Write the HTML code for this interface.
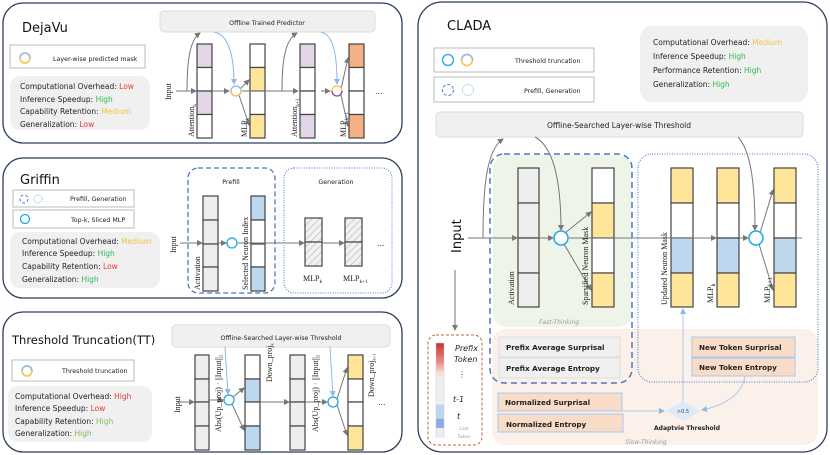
<!DOCTYPE html>
<html><head><meta charset="utf-8"><style>
body{margin:0;background:#fff}
svg{display:block}
text{font-family:"DejaVu Sans","Liberation Sans",sans-serif}
.s{font-size:7.5px;fill:#222}
.l{font-size:6.3px;fill:#222}
.sr{font-family:"Liberation Serif",serif;font-size:8px;fill:#222}
.t{font-size:13px;fill:#111}
.c{stroke:#444;stroke-width:1.2}
</style></head><body>
<svg width="830" height="455" viewBox="0 0 830 455" xmlns="http://www.w3.org/2000/svg">
<defs>
<marker id="a" markerWidth="6" markerHeight="6" refX="5" refY="3" orient="auto"><path d="M0,0L6,3L0,6z" fill="#777"/></marker>
<marker id="b" markerWidth="6" markerHeight="6" refX="5" refY="3" orient="auto"><path d="M0,0L6,3L0,6z" fill="#8fb8e6"/></marker>
<pattern id="h" width="5" height="5" patternUnits="userSpaceOnUse" patternTransform="rotate(45)"><rect width="5" height="5" fill="#f2f2f2"/><line x1="0" y1="0" x2="0" y2="5" stroke="#ccc" stroke-width="2"/></pattern>
<linearGradient id="g" x1="0" y1="0" x2="0" y2="1"><stop offset="0" stop-color="#c9302c"/><stop offset="0.2" stop-color="#e88a85"/><stop offset="0.32" stop-color="#f9e0dc"/><stop offset="0.4" stop-color="#eee"/><stop offset="0.65" stop-color="#eee"/><stop offset="0.66" stop-color="#bcd6ee"/><stop offset="0.8" stop-color="#bcd6ee"/><stop offset="0.81" stop-color="#8eaadf"/><stop offset="0.9" stop-color="#8eaadf"/><stop offset="0.91" stop-color="#eee"/><stop offset="1" stop-color="#eee"/></linearGradient>
</defs>

<!-- DejaVu -->
<rect x="3" y="3" width="399" height="140" rx="20" fill="#fff" stroke="#2c3e5c" stroke-width="1.3"/>
<text x="22" y="32" class="t">DejaVu</text>
<rect x="10" y="45" width="135" height="23" fill="#fff" stroke="#bbb"/>
<circle cx="25" cy="58" r="5" fill="none" stroke="#f5c242" stroke-width="1.5"/>
<path d="M20,58 A5,5 0 0 1 30,58" fill="none" stroke="#8fb8e6" stroke-width="1.5"/>
<text x="53" y="61" class="l">Layer-wise predicted mask</text>
<rect x="10" y="76" width="140" height="54" rx="10" fill="#f0f0f0"/>
<text x="20" y="89" class="s">Computational Overhead: <tspan fill="#e53935">Low</tspan></text>
<text x="20" y="102" class="s">Inference Speedup: <tspan fill="#2eb85c">High</tspan></text>
<text x="20" y="114" class="s">Capability Retention: <tspan fill="#f5c242">Medium</tspan></text>
<text x="20" y="127" class="s">Generalization: <tspan fill="#e53935">Low</tspan></text>
<rect x="160" y="11" width="215" height="21" rx="4" fill="#f0f0f0" stroke="#ddd"/>
<text x="267" y="25" class="l" text-anchor="middle">Offline Trained Predictor</text>
<g class="c">
<rect x="197" y="44" width="15" height="23.5" fill="#e1d5e7"/><rect x="197" y="67.5" width="15" height="23.5" fill="#fff"/><rect x="197" y="91" width="15" height="23.5" fill="#e1d5e7"/><rect x="197" y="114.5" width="15" height="23.5" fill="#fff"/>
<rect x="250" y="44" width="15" height="23.5" fill="#fff"/><rect x="250" y="67.5" width="15" height="23.5" fill="#fee599"/><rect x="250" y="91" width="15" height="23.5" fill="#fff"/><rect x="250" y="114.5" width="15" height="23.5" fill="#fee599"/>
<rect x="300" y="44" width="15" height="23.5" fill="#e1d5e7"/><rect x="300" y="67.5" width="15" height="23.5" fill="#fff"/><rect x="300" y="91" width="15" height="23.5" fill="#fff"/><rect x="300" y="114.5" width="15" height="23.5" fill="#e1d5e7"/>
<rect x="349" y="44" width="15" height="23.5" fill="#f4b183"/><rect x="349" y="67.5" width="15" height="23.5" fill="#fff"/><rect x="349" y="91" width="15" height="23.5" fill="#fff"/><rect x="349" y="114.5" width="15" height="23.5" fill="#f4b183"/>
</g>
<g stroke="#777" fill="none" stroke-width="1">
<line x1="176" y1="91" x2="196" y2="91" marker-end="url(#a)"/>
<line x1="212" y1="91" x2="229" y2="91" marker-end="url(#a)"/>
<line x1="242" y1="91" x2="298" y2="91" marker-end="url(#a)"/>
<line x1="321" y1="91" x2="330" y2="91" marker-end="url(#a)"/>
<path d="M187,91 C187,60 190,40 200,33" marker-end="url(#a)"/>
<path d="M282,91 C282,60 285,40 297,33" marker-end="url(#a)"/>
<line x1="240" y1="89" x2="249" y2="80" marker-end="url(#a)"/><line x1="239" y1="95" x2="249" y2="125" marker-end="url(#a)"/>
<line x1="341" y1="89" x2="348" y2="58" marker-end="url(#a)"/><line x1="341" y1="95" x2="348" y2="126" marker-end="url(#a)"/>
</g>
<g stroke="#8fb8e6" fill="none"><path d="M214,32 C230,35 234,60 234,84" marker-end="url(#b)"/><path d="M321,32 C335,35 337,60 337,84" marker-end="url(#b)"/></g>
<circle cx="236" cy="91" r="5" fill="#fff" stroke="#8fb8e6" stroke-width="1.3"/><path d="M231,91 A5,5 0 0 0 241,91" fill="none" stroke="#f5c242" stroke-width="1.3"/>
<circle cx="337" cy="91" r="5" fill="#fff" stroke="#f5c242" stroke-width="1.3"/><path d="M332,91 A5,5 0 0 0 342,91" fill="none" stroke="#8e44ad" stroke-width="1.3"/>
<text x="375" y="94" class="s">…</text>
<text transform="translate(171,100) rotate(-90)" class="sr">Input</text>
<text transform="translate(194,137) rotate(-90)" class="sr">Attention<tspan font-size="5.5" dy="2">k</tspan></text>
<text transform="translate(247,137) rotate(-90)" class="sr">MLP<tspan font-size="5.5" dy="2">k</tspan></text>
<text transform="translate(297,137) rotate(-90)" class="sr">Attention<tspan font-size="5.5" dy="2">k+1</tspan></text>
<text transform="translate(346,137) rotate(-90)" class="sr">MLP<tspan font-size="5.5" dy="2">k+1</tspan></text>

<!-- Griffin -->
<rect x="3" y="158" width="399" height="140" rx="20" fill="#fff" stroke="#2c3e5c" stroke-width="1.3"/>
<text x="20" y="184" class="t">Griffin</text>
<rect x="13" y="190" width="121" height="17" fill="#fff" stroke="#bbb"/>
<circle cx="24" cy="199" r="4" fill="none" stroke="#4a78c8" stroke-dasharray="3,2"/><circle cx="38" cy="199" r="4" fill="none" stroke="#8fb8e6" stroke-dasharray="1,1"/>
<text x="70" y="201" class="l">Prefill, Generation</text>
<rect x="13" y="210" width="121" height="18" fill="#fff" stroke="#bbb"/>
<circle cx="25" cy="219" r="4.5" fill="none" stroke="#1ea7e8" stroke-width="1.3"/>
<text x="71" y="222" class="l">Top-k, Sliced MLP</text>
<rect x="10" y="232" width="150" height="56" rx="10" fill="#f0f0f0"/>
<text x="22" y="244" class="s">Computational Overhead: <tspan fill="#f5c242">Medium</tspan></text>
<text x="22" y="256" class="s">Inference Speedup: <tspan fill="#2eb85c">High</tspan></text>
<text x="22" y="269" class="s">Capability Retention: <tspan fill="#e53935">Low</tspan></text>
<text x="22" y="282" class="s">Generalization: <tspan fill="#2eb85c">High</tspan></text>
<rect x="188" y="168" width="87" height="125" rx="10" fill="none" stroke="#4a78c8" stroke-width="1.3" stroke-dasharray="5,3"/>
<text x="231" y="184" class="l" text-anchor="middle">Prefill</text>
<rect x="284" y="168" width="108" height="125" rx="10" fill="none" stroke="#4a78c8" stroke-width="1" stroke-dasharray="1,1.5"/>
<text x="336" y="184" class="l" text-anchor="middle">Generation</text>
<g class="c">
<rect x="203" y="196" width="15" height="24" fill="#eee"/><rect x="203" y="220" width="15" height="24" fill="#eee"/><rect x="203" y="244" width="15" height="23" fill="#eee"/><rect x="203" y="267" width="15" height="24" fill="#eee"/>
<rect x="251" y="196" width="14" height="24" fill="#bdd7ee"/><rect x="251" y="220" width="14" height="24" fill="#fff"/><rect x="251" y="244" width="14" height="23" fill="#fff"/><rect x="251" y="267" width="14" height="24" fill="#bdd7ee"/>
<rect x="305" y="218" width="17" height="24" fill="url(#h)"/><rect x="305" y="242" width="17" height="24" fill="url(#h)"/>
<rect x="345" y="218" width="17" height="24" fill="url(#h)"/><rect x="345" y="242" width="17" height="24" fill="url(#h)"/>
</g>
<g stroke="#777" stroke-width="1"><line x1="180" y1="243" x2="202" y2="243" marker-end="url(#a)"/><line x1="218" y1="243" x2="226" y2="243" marker-end="url(#a)"/><line x1="238" y1="243" x2="304" y2="243" marker-end="url(#a)"/><line x1="322" y1="243" x2="344" y2="243" marker-end="url(#a)"/></g>
<circle cx="232" cy="243" r="5" fill="#fff" stroke="#1ea7e8" stroke-width="1.3"/>
<text x="377" y="246" class="s">…</text>
<text transform="translate(176,253) rotate(-90)" class="sr">Input</text>
<text transform="translate(200,290) rotate(-90)" class="sr">Activation</text>
<text transform="translate(248,290) rotate(-90)" class="sr" font-size="7">Selected Neuron Index</text>
<text x="303" y="281" class="sr">MLP<tspan font-size="5.5" dy="2">k</tspan></text>
<text x="343" y="281" class="sr">MLP<tspan font-size="5.5" dy="2">k+1</tspan></text>

<!-- TT -->
<rect x="3" y="312" width="399" height="140" rx="20" fill="#fff" stroke="#2c3e5c" stroke-width="1.3"/>
<text x="12" y="344" class="t" style="font-size:11.5px">Threshold Truncation(TT)</text>
<rect x="12" y="360" width="122" height="21" fill="#fff" stroke="#bbb"/>
<circle cx="27" cy="371" r="5" fill="none" stroke="#f5c242" stroke-width="1.5"/><path d="M22,371 A5,5 0 0 1 32,371" fill="none" stroke="#8fb8e6" stroke-width="1.5"/>
<text x="62" y="373" class="l">Threshold truncation</text>
<rect x="8" y="386" width="144" height="56" rx="10" fill="#f0f0f0"/>
<text x="15" y="399" class="s">Computational Overhead: <tspan fill="#e53935">High</tspan></text>
<text x="15" y="411" class="s">Inference Speedup: <tspan fill="#e53935">Low</tspan></text>
<text x="15" y="424" class="s">Capability Retention: <tspan fill="#7cbf5c">High</tspan></text>
<text x="15" y="436" class="s">Generalization: <tspan fill="#7cbf5c">High</tspan></text>
<rect x="172" y="325" width="218" height="22" rx="4" fill="#f0f0f0" stroke="#ddd"/>
<text x="281" y="340" class="l" text-anchor="middle">Offline-Searched Layer-wise Threshold</text>
<g class="c">
<rect x="195" y="355" width="14" height="24" fill="#eee"/><rect x="195" y="379" width="14" height="23" fill="#eee"/><rect x="195" y="402" width="14" height="24" fill="#eee"/><rect x="195" y="426" width="14" height="24" fill="#eee"/>
<rect x="245" y="355" width="15" height="24" fill="#fff"/><rect x="245" y="379" width="15" height="23" fill="#bdd7ee"/><rect x="245" y="402" width="15" height="24" fill="#fff"/><rect x="245" y="426" width="15" height="24" fill="#bdd7ee"/>
<rect x="290" y="355" width="15" height="24" fill="#eee"/><rect x="290" y="379" width="15" height="23" fill="#eee"/><rect x="290" y="402" width="15" height="24" fill="#eee"/><rect x="290" y="426" width="15" height="24" fill="#eee"/>
<rect x="348" y="355" width="15" height="24" fill="#fee599"/><rect x="348" y="379" width="15" height="23" fill="#fff"/><rect x="348" y="402" width="15" height="24" fill="#fff"/><rect x="348" y="426" width="15" height="24" fill="#fee599"/>
</g>
<g stroke="#777" stroke-width="1" fill="none"><line x1="178" y1="402" x2="194" y2="402" marker-end="url(#a)"/><line x1="209" y1="400" x2="223" y2="400" marker-end="url(#a)"/><line x1="260" y1="402" x2="289" y2="402" marker-end="url(#a)"/><line x1="305" y1="402" x2="327" y2="402" marker-end="url(#a)"/>
<line x1="233" y1="397" x2="244" y2="388" marker-end="url(#a)"/><line x1="232" y1="404" x2="244" y2="430" marker-end="url(#a)"/>
<line x1="337" y1="399" x2="347" y2="368" marker-end="url(#a)"/><line x1="337" y1="405" x2="347" y2="435" marker-end="url(#a)"/></g>
<g stroke="#8fb8e6" fill="none"><path d="M225,347 L228,394" marker-end="url(#b)"/><path d="M330,347 L333,396" marker-end="url(#b)"/></g>
<circle cx="229" cy="400" r="5" fill="#fff" stroke="#1ea7e8" stroke-width="1.3"/>
<circle cx="333" cy="402" r="5" fill="#fff" stroke="#1ea7e8" stroke-width="1.3"/>
<text x="378" y="405" class="s">…</text>
<text transform="translate(180,413) rotate(-90)" class="sr" font-size="9">Input</text>
<text transform="translate(221,432) rotate(-90)" class="sr" font-size="6.5">Abs(Up_proj) · ||Input||<tspan font-size="4.5" dy="1.5">2</tspan></text>
<text transform="translate(272,382) rotate(-90)" class="sr" font-size="6.5">Down_proj<tspan font-size="4.5" dy="1.5">k</tspan></text>
<text transform="translate(318,432) rotate(-90)" class="sr" font-size="6.5">Abs(Up_proj) · ||Input||<tspan font-size="4.5" dy="1.5">2</tspan></text>
<text transform="translate(374,397) rotate(-90)" class="sr" font-size="6.5">Down_proj<tspan font-size="4.5" dy="1.5">k+1</tspan></text>

<!-- CLADA -->
<rect x="418" y="2" width="409" height="450" rx="24" fill="#fff" stroke="#2c3e5c" stroke-width="1.3"/>
<text x="447" y="30" class="t">CLADA</text>
<rect x="434" y="48" width="160" height="24" fill="#fff" stroke="#bbb"/>
<circle cx="448" cy="60" r="5.5" fill="none" stroke="#1ea7e8" stroke-width="1.3"/><circle cx="467" cy="60" r="5.5" fill="none" stroke="#f5c242" stroke-width="1.5"/><path d="M461.5,60 A5.5,5.5 0 0 1 472.5,60" fill="none" stroke="#8fb8e6" stroke-width="1.5"/>
<text x="515" y="63" class="l">Threshold truncation</text>
<rect x="434" y="77" width="160" height="25" fill="#fff" stroke="#bbb"/>
<circle cx="448" cy="90" r="5.5" fill="none" stroke="#4a78c8" stroke-dasharray="3,2"/><circle cx="468" cy="90" r="5.5" fill="none" stroke="#8fb8e6" stroke-dasharray="1,1"/>
<text x="524" y="93" class="l">Prefill, Generation</text>
<rect x="640" y="26" width="168" height="76" rx="12" fill="#f0f0f0"/>
<text x="653" y="45" class="s">Computational Overhead: <tspan fill="#f5c242">Medium</tspan></text>
<text x="653" y="59" class="s">Inference Speedup: <tspan fill="#2eb85c">High</tspan></text>
<text x="653" y="73" class="s">Performance Retention: <tspan fill="#2eb85c">High</tspan></text>
<text x="653" y="87" class="s">Generalization: <tspan fill="#2eb85c">High</tspan></text>
<rect x="436" y="112" width="367" height="25" rx="4" fill="#f0f0f0" stroke="#ddd"/>
<text x="619" y="128" class="s" text-anchor="middle">Offline-Searched Layer-wise Threshold</text>
<rect x="492" y="329" width="326" height="116" rx="14" fill="#fcf1ea"/>
<rect x="493" y="155" width="139" height="172" rx="14" fill="#eef5e8"/>
<rect x="490" y="154" width="142" height="229" rx="14" fill="none" stroke="#4a78c8" stroke-width="1.5" stroke-dasharray="6,4"/>
<rect x="638" y="154" width="180" height="228" rx="14" fill="none" stroke="#4a78c8" stroke-width="1.1" stroke-dasharray="1,1.5"/>
<text x="559" y="324" font-size="6" font-style="italic" fill="#999" text-anchor="middle">Fast-Thinking</text>
<text x="646" y="444" font-size="6" font-style="italic" fill="#999" text-anchor="middle">Slow-Thinking</text>
<g class="c">
<rect x="518" y="168" width="21" height="35" fill="#eee"/><rect x="518" y="203" width="21" height="35" fill="#eee"/><rect x="518" y="238" width="21" height="35" fill="#eee"/><rect x="518" y="273" width="21" height="34" fill="#eee"/>
<rect x="592" y="168" width="22" height="35" fill="#fff"/><rect x="592" y="203" width="22" height="35" fill="#fee599"/><rect x="592" y="238" width="22" height="35" fill="#fff"/><rect x="592" y="273" width="22" height="34" fill="#fee599"/>
<rect x="671" y="168" width="22" height="35" fill="#fee599"/><rect x="671" y="203" width="22" height="35" fill="#fff"/><rect x="671" y="238" width="22" height="35" fill="#bdd7ee"/><rect x="671" y="273" width="22" height="34" fill="#fee599"/>
<rect x="717" y="168" width="22" height="35" fill="#fee599"/><rect x="717" y="203" width="22" height="35" fill="#fff"/><rect x="717" y="238" width="22" height="35" fill="#bdd7ee"/><rect x="717" y="273" width="22" height="34" fill="#fee599"/>
<rect x="774" y="168" width="22" height="35" fill="#fee599"/><rect x="774" y="203" width="22" height="35" fill="#fff"/><rect x="774" y="238" width="22" height="35" fill="#bdd7ee"/><rect x="774" y="273" width="22" height="34" fill="#fee599"/>
</g>
<g stroke="#777" stroke-width="1" fill="none">
<line x1="468" y1="238" x2="517" y2="238" marker-end="url(#a)"/><line x1="539" y1="238" x2="553" y2="238" marker-end="url(#a)"/><line x1="569" y1="238" x2="716" y2="238" marker-end="url(#a)"/><line x1="739" y1="238" x2="748" y2="238" marker-end="url(#a)"/><line x1="796" y1="238" x2="802" y2="238"/>
<path d="M483,238 C483,190 486,150 503,139" marker-end="url(#a)"/>
<path d="M535,137 C550,145 561,170 561,230" marker-end="url(#a)"/>
<path d="M738,137 C750,150 755,180 755,230" marker-end="url(#a)"/>
<line x1="565" y1="233" x2="591" y2="212" marker-end="url(#a)"/><line x1="564" y1="244" x2="591" y2="290" marker-end="url(#a)"/>
<line x1="760" y1="233" x2="773" y2="190" marker-end="url(#a)"/><line x1="759" y1="244" x2="773" y2="290" marker-end="url(#a)"/>
<line x1="455" y1="270" x2="455" y2="330" marker-end="url(#a)"/>
</g>
<circle cx="561" cy="238" r="7" fill="#fff" stroke="#1ea7e8" stroke-width="1.5"/>
<circle cx="756" cy="238" r="7" fill="#fff" stroke="#1ea7e8" stroke-width="1.5"/>
<text transform="translate(461,253) rotate(-90)" font-family="Liberation Sans" font-size="13" fill="#111">Input</text>
<text transform="translate(514,305) rotate(-90)" class="sr" font-size="9">Activation</text>
<text transform="translate(588,305) rotate(-90)" class="sr" font-size="8">Sparsified Neuron Mask</text>
<text transform="translate(667,305) rotate(-90)" class="sr" font-size="8">Updated Neuron Mask</text>
<text transform="translate(713,303) rotate(-90)" class="sr" font-size="9">MLP<tspan font-size="6" dy="2">k</tspan></text>
<text transform="translate(770,303) rotate(-90)" class="sr" font-size="9">MLP<tspan font-size="6" dy="2">k+1</tspan></text>
<rect x="428" y="335" width="54" height="110" rx="8" fill="#fff" stroke="#b5694a" stroke-dasharray="3,2"/>
<rect x="436" y="343" width="8" height="94" fill="url(#g)" stroke="#ccc" stroke-width="0.5"/>
<g font-size="8" font-style="italic" fill="#222"><text x="455" y="351">Prefix</text><text x="454" y="362">Token</text><text x="458" y="377">⋮</text><text x="453" y="402">t-1</text><text x="457" y="419">t</text></g>
<text x="464" y="430" font-size="4.5" font-style="italic" fill="#999" text-anchor="middle">Last</text><text x="464" y="438" font-size="4.5" font-style="italic" fill="#999" text-anchor="middle">Token</text>
<g font-size="7.2" font-weight="bold" fill="#222">
<rect x="499" y="337" width="121" height="20" fill="#f0f0f0" stroke="#ddd"/><text x="506" y="350">Prefix Average Surprisal</text>
<rect x="499" y="358" width="121" height="20" fill="#f0f0f0" stroke="#ddd"/><text x="506" y="371">Prefix Average Entropy</text>
<rect x="498" y="393" width="124" height="18" fill="#f9dcc8" stroke="#a8c8ec"/><text x="505" y="405">Normalized Surprisal</text>
<rect x="498" y="414" width="125" height="18" fill="#f9dcc8" stroke="#a8c8ec"/><text x="506" y="427">Normalized Entropy</text>
<rect x="692" y="337" width="103" height="20" fill="#f9dcc8" stroke="#a8c8ec"/><text x="699" y="350">New Token Surprisal</text>
<rect x="692" y="358" width="103" height="18" fill="#f9dcc8" stroke="#a8c8ec"/><text x="699" y="370">New Token Entropy</text>
</g>
<g stroke="#a8c8ec" fill="none" stroke-width="1"><line x1="623" y1="411" x2="664" y2="411" marker-end="url(#b)"/><path d="M745,376 C742,395 725,405 702,410" marker-end="url(#b)"/><line x1="683" y1="401" x2="683" y2="309" marker-end="url(#b)"/></g>
<path d="M683,401 L700,411 L683,421 L666,411z" fill="#ddeaf8"/>
<text x="683" y="413" font-size="5" fill="#444" text-anchor="middle">&gt;0.5</text>
<text x="687" y="430" font-size="6" font-weight="bold" fill="#222" text-anchor="middle">Adaptvie Threshold</text>
</svg>
</body></html>
